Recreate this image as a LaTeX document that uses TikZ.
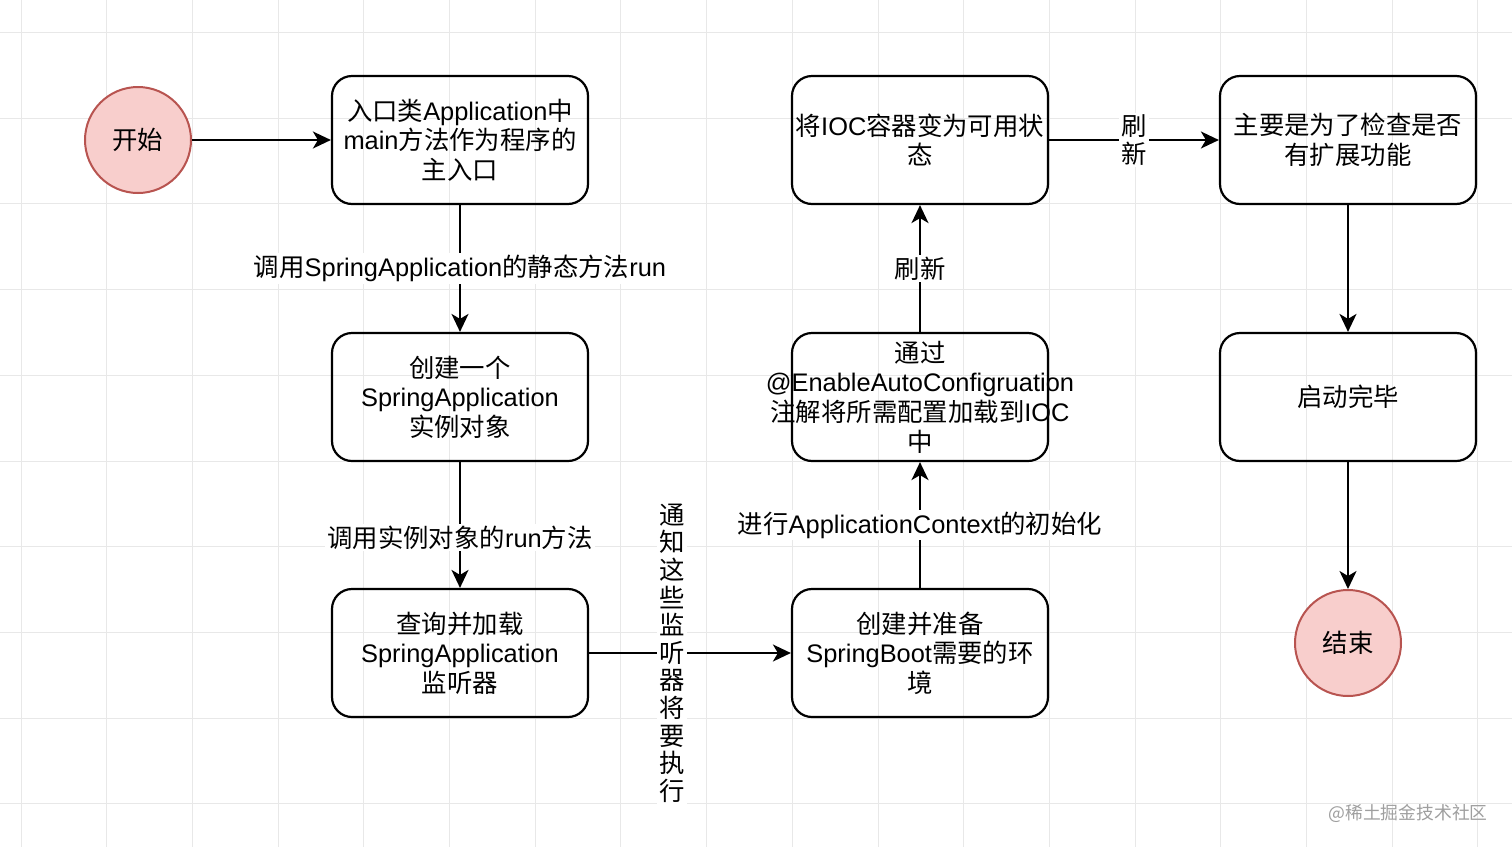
\documentclass[tikz,border=0pt]{standalone}
\usepackage{fontspec}
\setmainfont{Noto Sans CJK SC}
\newfontfamily\lat{Liberation Sans}
\usetikzlibrary{arrows.meta}
\definecolor{termfill}{HTML}{F8CECC}
\definecolor{termline}{HTML}{B85450}
\definecolor{gridline}{HTML}{E8E8E8}
\tikzset{
  box/.style={draw, line width=1.1pt, rounded corners=10pt, minimum width=128pt,
    minimum height=64pt, align=center, inner sep=1pt},
  term/.style={circle, draw=termline, fill=termfill, line width=1pt, minimum size=53pt},
  flow/.style={line width=1pt, -{Stealth[length=9pt,width=8.5pt,inset=2.5pt]}},
  lbl/.style={fill=white, inner sep=1pt, align=center}
}

\begin{document}
\begin{tikzpicture}[x=0.5pt, y=-0.5pt,
    every node/.style={font=\fontsize{12.7}{14.8}\selectfont}]
  \useasboundingbox[fill=white] (0,0) rectangle (1512,847);

  % background grid
  \foreach \gx in {0,...,17}
    \draw[gridline, line width=0.5pt] ({21+85.7*\gx},0) -- ({21+85.7*\gx},847);
  \foreach \gy in {0,...,9}
    \draw[gridline, line width=0.5pt] (0,{32.5+85.7*\gy}) -- (1512,{32.5+85.7*\gy});

  \node[term] (start) at (138,140) {开始};
  \node[box] (entry) at (460,140) {入口类{\lat Application}中\\{\lat main}方法作为程序的\\主入口};
  \node[box] (create) at (460,397) {创建一个\\{\lat SpringApplication}\\实例对象};
  \node[box] (listen) at (460,653) {查询并加载\\{\lat SpringApplication}\\监听器};
  \node[box] (env) at (920,653) {创建并准备\\{\lat SpringBoot}需要的环\\境};
  \node[box] (auto) at (920,397) {通过\\\makebox[0pt]{\lat @EnableAutoConfigruation}\\
    \makebox[0pt]{注解将所需配置加载到{\lat IOC}}\\中};
  \node[box] (ready) at (920,140) {\makebox[0pt]{将{\lat IOC}容器变为可用状}\\态};
  \node[box] (check) at (1348,140) {主要是为了检查是否\\有扩展功能};
  \node[box] (done) at (1348,397) {启动完毕};
  \node[term] (stop) at (1348,643) {结束};

  \draw[flow] (start) -- (entry);
  \draw[flow] (entry) -- node[lbl] {调用{\lat SpringApplication}的静态方法{\lat run}} (create);
  \draw[flow] (create) -- node[lbl, pos=0.6] {调用实例对象的{\lat run}方法} (listen);
  \draw[flow] (listen) -- node[lbl, pos=0.41, font=\fontsize{12.7}{13.8}\selectfont]
    {通\\知\\这\\些\\监\\听\\器\\将\\要\\执\\行} (env);
  \draw[flow] (env) -- node[lbl] {进行{\lat ApplicationContext}的初始化} (auto);
  \draw[flow] (auto) -- node[lbl] {刷新} (ready);
  \draw[flow] (ready) -- node[lbl, font=\fontsize{12.7}{14}\selectfont] {刷\\新} (check);
  \draw[flow] (check) -- (done);
  \draw[flow] (done) -- (stop);

  \node[text=gray!75, font=\fontsize{8.9}{10}\selectfont] (mark) at (1408,813) {@稀土掘金技术社区};
\end{tikzpicture}
\end{document}
